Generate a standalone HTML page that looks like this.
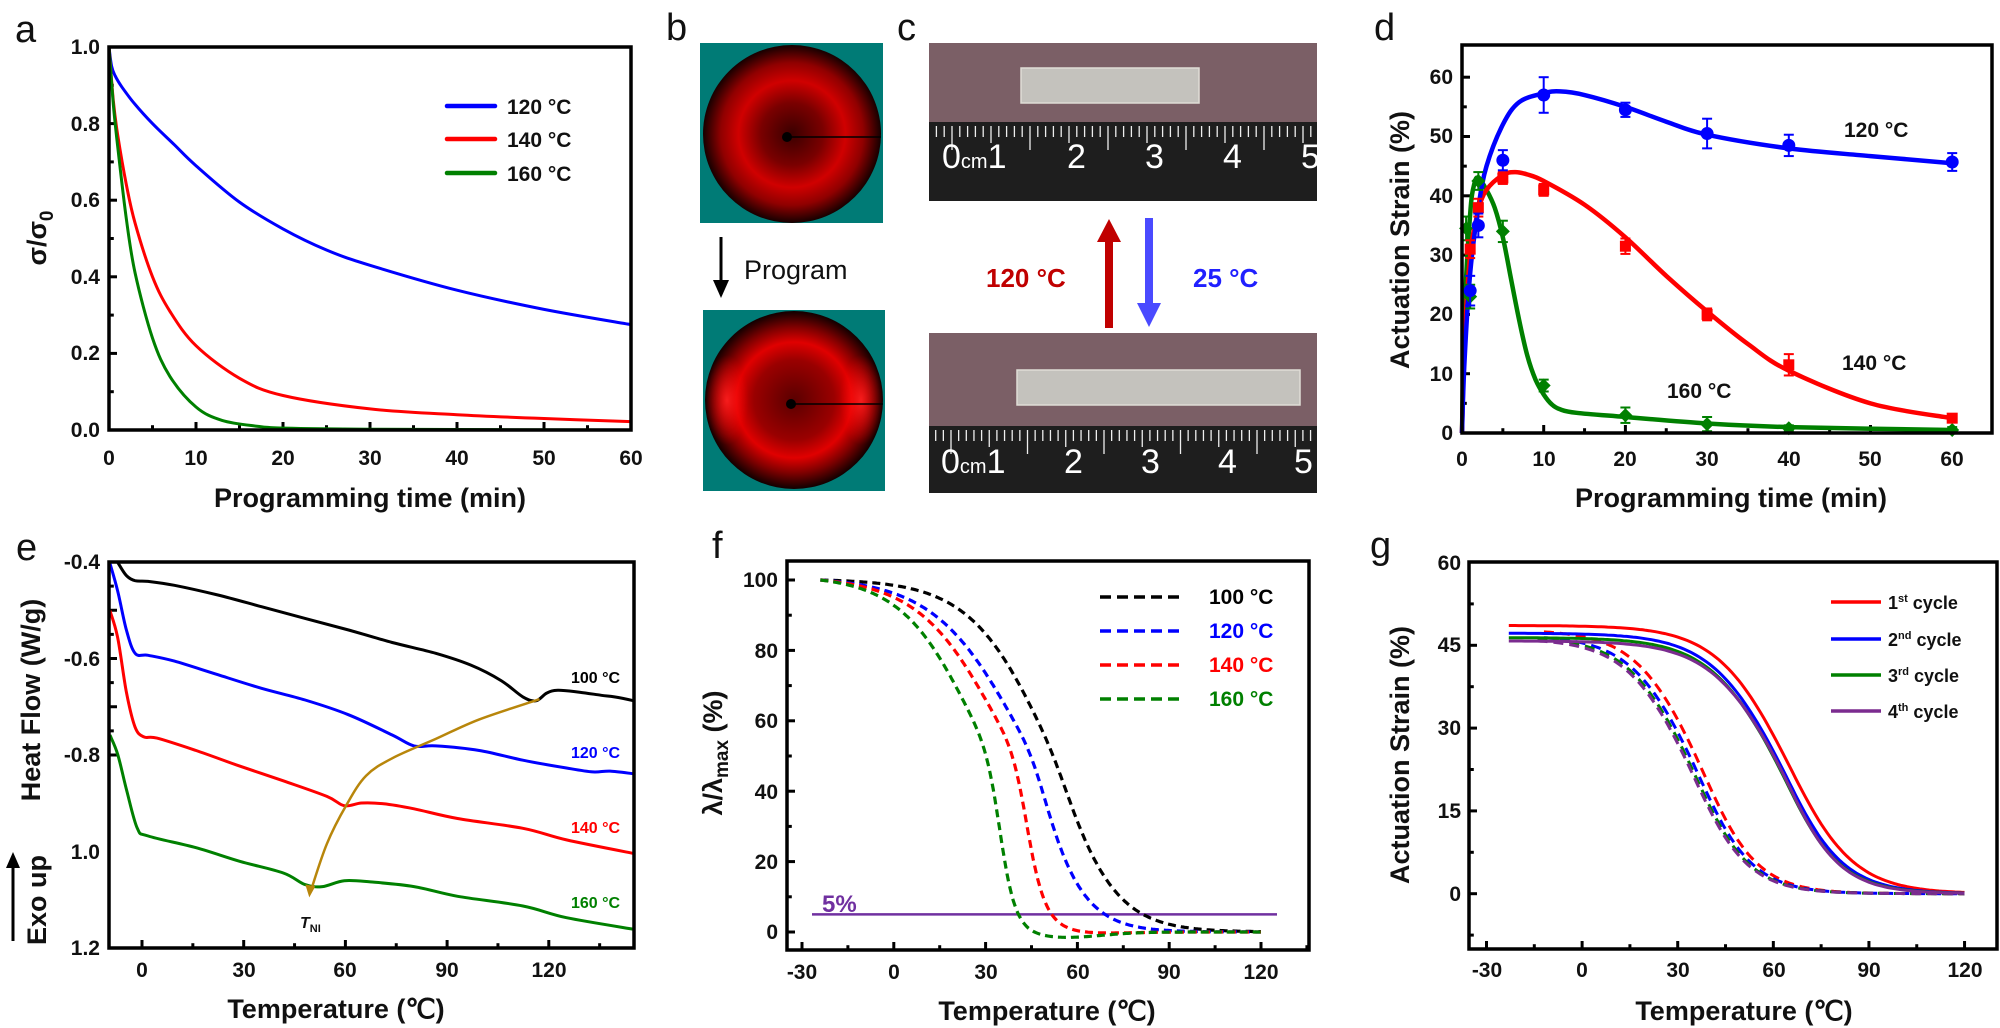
<!DOCTYPE html>
<html><head><meta charset="utf-8">
<style>
html,body{margin:0;padding:0;background:#fff;}
svg{display:block;font-family:"Liberation Sans",Arial,sans-serif;}
.t{font-weight:bold;font-size:21px;fill:#111;}
.ti{font-weight:bold;font-size:27px;fill:#111;}
.pl{font-size:38px;fill:#111;}
</style></head><body>
<svg id="s" width="2000" height="1028" viewBox="0 0 2000 1028" xmlns="http://www.w3.org/2000/svg">
<defs>
<radialGradient id="rg1" cx="50%" cy="50%" r="50%">
<stop offset="0" stop-color="#3a0000"/><stop offset="0.35" stop-color="#7a0000"/>
<stop offset="0.6" stop-color="#d00000"/><stop offset="0.8" stop-color="#900000"/><stop offset="1" stop-color="#150000"/>
</radialGradient>
<radialGradient id="rg2" cx="50%" cy="50%" r="50%">
<stop offset="0" stop-color="#5a0000"/><stop offset="0.45" stop-color="#9a0000"/>
<stop offset="0.65" stop-color="#e00000"/><stop offset="0.82" stop-color="#800000"/><stop offset="1" stop-color="#100000"/>
</radialGradient>
<radialGradient id="hl" cx="50%" cy="50%" r="50%"><stop offset="0" stop-color="#ff2020" stop-opacity="0.9"/><stop offset="1" stop-color="#ff0000" stop-opacity="0"/></radialGradient>
</defs>

<text class="pl" x="15" y="42">a</text>
<text class="pl" x="666" y="40">b</text>
<text class="pl" x="897" y="40">c</text>
<text class="pl" x="1374" y="40">d</text>
<text class="pl" x="16" y="560">e</text>
<text class="pl" x="712" y="558">f</text>
<text class="pl" x="1370" y="558">g</text>

<!-- ===== Panel a ===== -->
<g id="ga"></g>
<rect x="109" y="47" width="522" height="383" fill="none" stroke="#000" stroke-width="3.5"/>
<g class="t" text-anchor="end">
<text x="100" y="54">1.0</text><text x="100" y="131">0.8</text><text x="100" y="207">0.6</text>
<text x="100" y="284">0.4</text><text x="100" y="360">0.2</text><text x="100" y="437">0.0</text>
</g>
<g class="t" text-anchor="middle">
<text x="109" y="465">0</text><text x="196" y="465">10</text><text x="283" y="465">20</text><text x="370" y="465">30</text>
<text x="457" y="465">40</text><text x="544" y="465">50</text><text x="631" y="465">60</text>
</g>
<text class="ti" x="370" y="507" text-anchor="middle">Programming time (min)</text>
<text class="ti" transform="translate(46,238) rotate(-90)" text-anchor="middle" font-size="28">σ/σ<tspan font-size="19" dy="7">0</tspan></text>
<g stroke-width="4.5" stroke-linecap="round">
<line x1="447" y1="106" x2="495" y2="106" stroke="#0000ff"/>
<line x1="447" y1="139" x2="495" y2="139" stroke="#ff0000"/>
<line x1="447" y1="173" x2="495" y2="173" stroke="#008000"/>
</g>
<g class="t"><text x="507" y="114">120 °C</text><text x="507" y="147">140 °C</text><text x="507" y="181">160 °C</text></g>

<!-- ===== Panel b ===== -->
<rect x="700" y="43" width="183" height="180" fill="#007b76"/>
<ellipse cx="792" cy="134" rx="89" ry="89" fill="url(#rg1)"/>
<circle cx="787" cy="137" r="5" fill="#000"/>
<line x1="787" y1="137" x2="881" y2="137" stroke="#000" stroke-width="1.6"/>
<line x1="721" y1="237" x2="721" y2="282" stroke="#000" stroke-width="3"/>
<polygon points="713,280 729,280 721,298" fill="#000"/>
<text x="744" y="279" font-size="27" fill="#111">Program</text>
<rect x="703" y="310" width="182" height="181" fill="#007b76"/>
<ellipse cx="794" cy="400" rx="89" ry="89" fill="url(#rg2)"/>
<ellipse cx="727" cy="400" rx="22" ry="45" fill="url(#hl)"/>
<ellipse cx="861" cy="400" rx="22" ry="45" fill="url(#hl)"/>
<circle cx="791" cy="404" r="5" fill="#000"/>
<line x1="791" y1="404" x2="883" y2="404" stroke="#000" stroke-width="1.6"/>

<!-- ===== Panel c ===== -->
<rect x="929" y="43" width="388" height="79" fill="#7b5f66"/>
<rect x="929" y="122" width="388" height="79" fill="#1e1e1e"/>
<rect x="1021" y="68" width="178" height="35" fill="#c4c2bd" stroke="#e0ddd6" stroke-width="1.5"/>
<g id="r1"></g>
<g fill="#fff" font-size="34">
<text x="942" y="168">0<tspan font-size="20">cm</tspan>1</text><text x="1067" y="168">2</text><text x="1145" y="168">3</text><text x="1223" y="168">4</text><text x="1301" y="168">5</text>
</g>
<text x="986" y="287" font-weight="bold" font-size="26" fill="#c00000">120 °C</text>
<text x="1193" y="287" font-weight="bold" font-size="26" fill="#2020ff">25 °C</text>
<rect x="1105" y="238" width="8" height="90" fill="#c00000"/>
<polygon points="1097,242 1121,242 1109,219" fill="#c00000"/>
<rect x="1145" y="218" width="8" height="88" fill="#4a4aff"/>
<polygon points="1137,303 1161,303 1149,327" fill="#4a4aff"/>
<rect x="929" y="333" width="388" height="93" fill="#7b5f66"/>
<rect x="929" y="426" width="388" height="67" fill="#1e1e1e"/>
<rect x="1017" y="370" width="283" height="35" fill="#c4c2bd" stroke="#e0ddd6" stroke-width="1.5"/>
<g id="r2"></g>
<g fill="#fff" font-size="34">
<text x="941" y="473">0<tspan font-size="20">cm</tspan>1</text><text x="1064" y="473">2</text><text x="1141" y="473">3</text><text x="1218" y="473">4</text><text x="1294" y="473">5</text>
</g>

<!-- ===== Panel d ===== -->
<g id="gd"></g>
<rect x="1462" y="45" width="530" height="388" fill="none" stroke="#000" stroke-width="3.5"/>
<g class="t" text-anchor="end">
<text x="1453" y="440">0</text><text x="1453" y="381">10</text><text x="1453" y="321">20</text><text x="1453" y="262">30</text>
<text x="1453" y="203">40</text><text x="1453" y="143">50</text><text x="1453" y="84">60</text>
</g>
<g class="t" text-anchor="middle">
<text x="1462" y="466">0</text><text x="1544" y="466">10</text><text x="1625" y="466">20</text><text x="1707" y="466">30</text>
<text x="1789" y="466">40</text><text x="1870" y="466">50</text><text x="1952" y="466">60</text>
</g>
<text class="ti" x="1731" y="507" text-anchor="middle">Programming time (min)</text>
<text class="ti" transform="translate(1409,240) rotate(-90)" text-anchor="middle">Actuation Strain (%)</text>
<g class="t"><text x="1844" y="137">120 °C</text><text x="1842" y="370">140 °C</text><text x="1667" y="398">160 °C</text></g>

<!-- ===== Panel e ===== -->
<g id="ge"></g>
<rect x="109" y="562" width="525" height="386" fill="none" stroke="#000" stroke-width="3.5"/>
<g class="t" text-anchor="end">
<text x="100" y="569">-0.4</text><text x="100" y="666">-0.6</text><text x="100" y="762">-0.8</text>
<text x="100" y="859">1.0</text><text x="100" y="955">1.2</text>
</g>
<g class="t" text-anchor="middle">
<text x="142" y="977">0</text><text x="244" y="977">30</text><text x="345" y="977">60</text><text x="447" y="977">90</text><text x="549" y="977">120</text>
</g>
<text class="ti" x="336" y="1018" text-anchor="middle">Temperature (℃)</text>
<text class="ti" transform="translate(40,700) rotate(-90)" text-anchor="middle">Heat Flow (W/g)</text>
<text class="ti" transform="translate(46,900) rotate(-90)" text-anchor="middle">Exo up</text>
<line x1="13" y1="941" x2="13" y2="866" stroke="#000" stroke-width="3"/>
<polygon points="6,868 20,868 13,852" fill="#000"/>
<g font-weight="bold" font-size="16">
<text x="571" y="683" fill="#000">100 °C</text><text x="571" y="758" fill="#0000ff">120 °C</text>
<text x="571" y="833" fill="#ff0000">140 °C</text><text x="571" y="908" fill="#008000">160 °C</text>
</g>
<text x="300" y="928" font-size="16" font-style="italic" font-weight="bold" fill="#111">T<tspan font-size="11" font-style="normal" dy="4">NI</tspan></text>

<!-- ===== Panel f ===== -->
<g id="gf"></g>
<rect x="787" y="561" width="522" height="389" fill="none" stroke="#000" stroke-width="3.5"/>
<g class="t" text-anchor="end">
<text x="778" y="939">0</text><text x="778" y="869">20</text><text x="778" y="799">40</text>
<text x="778" y="728">60</text><text x="778" y="658">80</text><text x="778" y="587">100</text>
</g>
<g class="t" text-anchor="middle">
<text x="802" y="979">-30</text><text x="894" y="979">0</text><text x="986" y="979">30</text><text x="1078" y="979">60</text>
<text x="1169" y="979">90</text><text x="1261" y="979">120</text>
</g>
<text class="ti" x="1047" y="1020" text-anchor="middle">Temperature (℃)</text>
<text class="ti" transform="translate(722,753) rotate(-90)" text-anchor="middle">λ/λ<tspan font-size="19" dy="6">max</tspan><tspan dy="-6"> (%)</tspan></text>
<text x="822" y="912" font-weight="bold" font-size="24" fill="#7030a0">5%</text>
<g font-weight="bold" font-size="21">
<text x="1209" y="604" fill="#000">100 °C</text><text x="1209" y="638" fill="#0000ff">120 °C</text>
<text x="1209" y="672" fill="#ff0000">140 °C</text><text x="1209" y="706" fill="#008000">160 °C</text>
</g>

<!-- ===== Panel g ===== -->
<g id="gg"></g>
<rect x="1469" y="562" width="528" height="387" fill="none" stroke="#000" stroke-width="3.5"/>
<g class="t" text-anchor="end">
<text x="1461" y="901">0</text><text x="1461" y="818">15</text><text x="1461" y="735">30</text>
<text x="1461" y="652">45</text><text x="1461" y="570">60</text>
</g>
<g class="t" text-anchor="middle">
<text x="1487" y="977">-30</text><text x="1582" y="977">0</text><text x="1678" y="977">30</text><text x="1774" y="977">60</text>
<text x="1869" y="977">90</text><text x="1965" y="977">120</text>
</g>
<text class="ti" x="1744" y="1020" text-anchor="middle">Temperature (℃)</text>
<text class="ti" transform="translate(1409,755) rotate(-90)" text-anchor="middle">Actuation Strain (%)</text>
<g stroke-width="3.5">
<line x1="1831" y1="602" x2="1881" y2="602" stroke="#ff0000"/>
<line x1="1831" y1="639" x2="1881" y2="639" stroke="#0000ff"/>
<line x1="1831" y1="675" x2="1881" y2="675" stroke="#008000"/>
<line x1="1831" y1="711" x2="1881" y2="711" stroke="#7b2c8f"/>
</g>
<g font-weight="bold" font-size="18" fill="#111">
<text x="1888" y="609">1<tspan font-size="11" dy="-7">st</tspan><tspan dy="7"> cycle</tspan></text>
<text x="1888" y="646">2<tspan font-size="11" dy="-7">nd</tspan><tspan dy="7"> cycle</tspan></text>
<text x="1888" y="682">3<tspan font-size="11" dy="-7">rd</tspan><tspan dy="7"> cycle</tspan></text>
<text x="1888" y="718">4<tspan font-size="11" dy="-7">th</tspan><tspan dy="7"> cycle</tspan></text>
</g>
</svg>
<script>
var NS="http://www.w3.org/2000/svg";
function el(p,t,a){var e=document.createElementNS(NS,t);for(var k in a)e.setAttribute(k,a[k]);document.getElementById(p).appendChild(e);return e;}
function cr(pts){
 var d="M"+pts[0][0].toFixed(1)+","+pts[0][1].toFixed(1);
 for(var i=0;i<pts.length-1;i++){var p0=pts[i-1]||pts[i],p1=pts[i],p2=pts[i+1],p3=pts[i+2]||p2;
 var c1=[p1[0]+(p2[0]-p0[0])/6,p1[1]+(p2[1]-p0[1])/6],c2=[p2[0]-(p3[0]-p1[0])/6,p2[1]-(p3[1]-p1[1])/6];
 d+="C"+c1[0].toFixed(1)+","+c1[1].toFixed(1)+" "+c2[0].toFixed(1)+","+c2[1].toFixed(1)+" "+p2[0].toFixed(1)+","+p2[1].toFixed(1);}
 return d;}
function poly(pts){return "M"+pts.map(function(p){return p[0].toFixed(1)+","+p[1].toFixed(1)}).join("L");}
function ticks(g,X,Y,xs,ys,bot,left){xs.forEach(function(v){var x=X(v[0]);el(g,"line",{x1:x,x2:x,y1:bot,y2:bot-v[1],stroke:"#000","stroke-width":3});});
 ys.forEach(function(v){var y=Y(v[0]);el(g,"line",{x1:left,x2:left+v[1],y1:y,y2:y,stroke:"#000","stroke-width":3});});}
function rng(a,b,s,maj,ml){var r=[];for(var v=a;v<=b+1e-9;v+=s){var m=Math.abs(v/maj-Math.round(v/maj))<1e-6;r.push([v,m?ml:ml*0.6]);}return r;}

(function(){var X=function(t){return 109+t*522/60},Y=function(v){return 430-383*v};
ticks("ga",X,Y,rng(0,60,5,10,8),rng(0,1,0.1,0.2,8),430,109);
var B=[[0,1],[0.3,0.95],[0.7,0.925],[1.5,0.895],[3,0.85],[5,0.8],[7.5,0.745],[10,0.69],[15,0.595],[20,0.525],[25,0.47],[30,0.43],[40,0.365],[50,0.315],[60,0.275]];
var R=[[0,1],[0.5,0.86],[1,0.77],[2,0.64],[3,0.54],[5,0.4],[7,0.31],[10,0.22],[15,0.135],[20,0.09],[30,0.055],[40,0.04],[50,0.03],[60,0.022]];
var G=[[0,1],[0.5,0.85],[1,0.74],[2,0.55],[3,0.41],[5,0.24],[7,0.14],[10,0.06],[13,0.025],[17,0.01],[20,0.005],[30,0.002],[60,0]];
[[B,"#0000ff"],[R,"#ff0000"],[G,"#008000"]].forEach(function(s){el("ga","path",{d:cr(s[0].map(function(p){return[X(p[0]),Y(p[1])]})),fill:"none",stroke:s[1],"stroke-width":3});});})();

function ruler(g,x0,top,sp){for(var i=-2;i<=52;i++){var x=x0+i*sp/10;if(x<931||x>1315)continue;var L=i%10==0?24:(i%5==0?17:11);
 el(g,"line",{x1:x,x2:x,y1:top+4,y2:top+4+L,stroke:"#eee","stroke-width":1.3});}}
ruler("r1",952,122,78);ruler("r2",951,426,76.5);

(function(){var X=function(t){return 1462+8.17*t},Y=function(v){return 433-5.93*v};
ticks("gd",X,Y,rng(0,60,5,10,8),rng(0,60,5,10,8),433,1462);
var B=[[0,0],[0.3,12],[1,27],[2,38],[3,45],[5,52],[7,55.8],[10,57.3],[12,57.6],[15,57],[20,55],[25,52.5],[30,50.3],[40,48],[50,46.7],[60,45.5]];
var R=[[0,0],[0.3,15],[1,30],[2,37.5],[3,41],[5,43.5],[6.5,44],[8,43.6],[10,42.5],[15,38.5],[20,33],[25,26.5],[30,20.5],[35,15],[40,10.5],[50,5],[60,2.5]];
var G=[[0,0],[0.3,20],[1,37],[1.5,42],[2,43],[3,41],[4,38],[5,33],[6,26],[7,19],[8,13],[9,9],[10,6.5],[11,4.8],[12,4],[14,3.4],[20,2.7],[30,1.6],[40,1.0],[60,0.5]];
[[G,"#008000"],[R,"#ff0000"],[B,"#0000ff"]].forEach(function(s){el("gd","path",{d:cr(s[0].map(function(p){return[X(p[0]),Y(p[1])]})),fill:"none",stroke:s[1],"stroke-width":4.5});});
function eb(x,y,e,c){el("gd","line",{x1:x,x2:x,y1:Y(y-e),y2:Y(y+e),stroke:c,"stroke-width":2});
 el("gd","line",{x1:x-5,x2:x+5,y1:Y(y-e),y2:Y(y-e),stroke:c,"stroke-width":2});el("gd","line",{x1:x-5,x2:x+5,y1:Y(y+e),y2:Y(y+e),stroke:c,"stroke-width":2});}
[[0.5,34.5,2],[1,23,2],[2,42.5,1.5],[5,34,1.8],[10,8,1],[20,3,1.3],[30,1.5,1.2],[40,0.8,0.5],[60,0.5,0.5]].forEach(function(p){var x=X(p[0]),y=Y(p[1]);eb(x,p[1],p[2],"#008000");
 el("gd","polygon",{points:(x-7)+","+y+" "+x+","+(y-7)+" "+(x+7)+","+y+" "+x+","+(y+7),fill:"#008000"});});
[[1,31,1.5],[2,38,1.5],[5,43,1],[10,41,1],[20,31.5,1.3],[30,20,1],[40,11.5,1.8],[60,2.5,0.5]].forEach(function(p){var x=X(p[0]),y=Y(p[1]);eb(x,p[1],p[2],"#ff0000");
 el("gd","rect",{x:x-5.5,y:y-5.5,width:11,height:11,fill:"#ff0000"});});
[[1,24,2.5],[2,35,2],[5,46,1.7],[10,57,3],[20,54.5,1.2],[30,50.5,2.5],[40,48.5,1.8],[60,45.7,1.5]].forEach(function(p){var x=X(p[0]),y=Y(p[1]);eb(x,p[1],p[2],"#0000ff");
 el("gd","circle",{cx:x,cy:y,r:6.5,fill:"#0000ff"});});})();

(function(){var X=function(T){return 142+3.39*T},Y=function(v){return 562+(v-0.4)/0.2*48.25};
ticks("ge",X,Y,rng(-7.5,142.5,7.5,30,8).filter(function(v){return Math.abs(v[0]%15)<1e-6}),rng(0.4,1.2,0.1,0.2,8),948,109);
function m(pts){return pts.map(function(p){return[109+(p[0]-250)*0.4357,562+(p[1]-365)*0.3887]});}
var K=[[270,366],[290,400],[310,413],[340,415],[400,425],[500,450],[600,480],[700,510],[800,540],[900,572],[1000,600],[1080,630],[1150,670],[1200,712],[1230,722],[1255,702],[1280,695],[1330,700],[1380,708],[1410,712],[1455,722]];
var Bl=[[252,368],[270,440],[290,540],[310,600],[340,605],[400,620],[500,655],[600,690],[700,720],[800,758],[900,810],[950,838],[1000,838],[1100,850],[1200,875],[1300,895],[1360,905],[1400,903],[1455,910]];
var Rd=[[252,490],[270,560],[290,700],[310,790],[330,815],[360,818],[450,850],[550,890],[650,928],[750,968],[790,992],[830,985],[880,987],[950,1000],[1050,1025],[1200,1050],[1300,1080],[1455,1115]];
var Gr=[[252,810],[270,860],[290,950],[315,1050],[340,1070],[450,1100],[550,1135],[650,1165],[700,1195],[740,1200],[790,1185],[850,1188],[950,1200],[1050,1225],[1200,1250],[1300,1280],[1455,1310]];
[[K,"#000"],[Bl,"#0000ff"],[Rd,"#ff0000"],[Gr,"#008000"]].forEach(function(s){el("ge","path",{d:cr(m(s[0])),fill:"none",stroke:s[1],"stroke-width":3});});
var A=m([[1238,718],[1100,770],[1000,820],[900,870],[840,915],[795,990],[750,1090],[712,1215]]);
el("ge","path",{d:cr(A),fill:"none",stroke:"#b8860b","stroke-width":2.5});
var t=A[A.length-1];el("ge","polygon",{points:(t[0]-5)+","+(t[1]-8)+" "+(t[0]+5)+","+(t[1]-6)+" "+(t[0]-1)+","+(t[1]+5),fill:"#b8860b"});})();

(function(){var X=function(T){return 802+3.06*(T+30)},Y=function(v){return 932-3.52*v};
ticks("gf",X,Y,rng(-30,135,15,30,8),rng(0,100,10,20,8),950,787);
el("gf","line",{x1:812,x2:1277,y1:Y(5),y2:Y(5),stroke:"#7030a0","stroke-width":2.5});
var S=[[52,13,10,"#000",0],[44.5,14.8,8.3,"#0000ff",0],[38.5,14,4.4,"#ff0000",0.4],[30,12.6,3.6,"#008000",1.6]];
S.forEach(function(s){function f(T){var w=s[1]+(s[2]-s[1])*(1+Math.tanh((T-s[0])/6))/2;return 1/(1+Math.exp((T-s[0])/w));}
 var n=f(-24),pts=[];for(var T=-24;T<=120;T+=0.5){var v=100*f(T)/n;v-=s[4]*Math.exp(-Math.pow((T-(s[0]+25))/18,2));pts.push([X(T),Y(Math.min(100,v))]);}
 el("gf","path",{d:poly(pts),fill:"none",stroke:s[3],"stroke-width":3.2,"stroke-dasharray":"8,5"});});
[["#000",597],["#0000ff",631],["#ff0000",665],["#008000",699]].forEach(function(l){el("gf","line",{x1:1100,x2:1182,y1:l[1],y2:l[1],stroke:l[0],"stroke-width":3.5,"stroke-dasharray":"11,6"});});})();

(function(){var X=function(T){return 1486.5+3.187*(T+30)},Y=function(v){return 893.7-5.52*v};
ticks("gg",X,Y,rng(-30,120,15,30,8),rng(-7.5,52.5,7.5,15,8),949,1469);
function lg(A,T0,w1,w2,a,b){var pts=[];for(var T=a;T<=b;T+=1){var w=w1+(w2-w1)*(1+Math.tanh((T-T0)/8))/2;pts.push([X(T),Y(A/(1+Math.exp((T-T0)/w)))]);}return pts;}
[[47.8,36.5,10,9,"#ff0000",-12],[46.8,35,10,9,"#0000ff",-12],[46.5,34,10,9,"#008000",-14],[46.2,33.5,10,9,"#7b2c8f",-14]].forEach(function(s){
 el("gg","path",{d:poly(lg(s[0],s[1],s[2],s[3],s[5],120)),fill:"none",stroke:s[4],"stroke-width":3,"stroke-dasharray":"10,6"});});
[[48.6,64,11,10.5,"#ff0000"],[47.2,62,11,9.8,"#0000ff"],[46.4,61.5,11,9.5,"#008000"],[45.8,62,11,9.2,"#7b2c8f"]].forEach(function(s){
 el("gg","path",{d:poly(lg(s[0],s[1],s[2],s[3],-23,120)),fill:"none",stroke:s[4],"stroke-width":3});});})();
</script>
</body></html>
